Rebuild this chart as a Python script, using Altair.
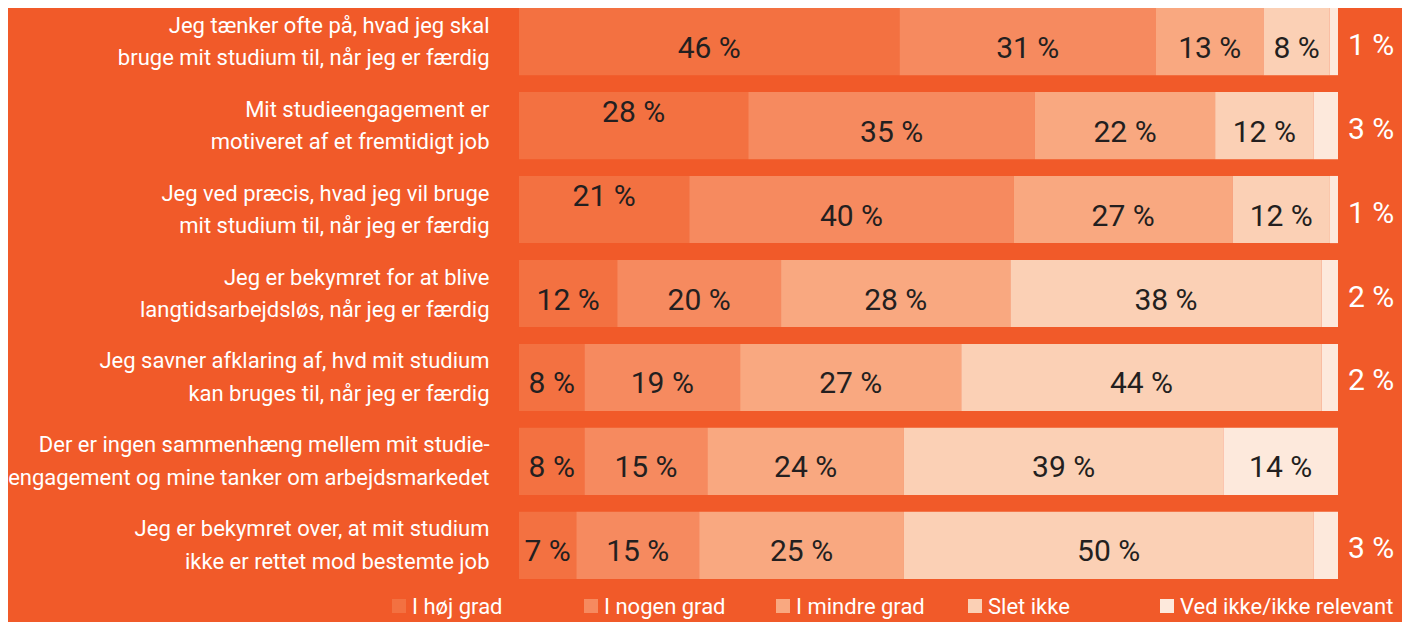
import altair as alt
import pandas as pd

items = [
    "Jeg tænker ofte på, hvad jeg skal|bruge mit studium til, når jeg er færdig",
    "Mit studieengagement er|motiveret af et fremtidigt job",
    "Jeg ved præcis, hvad jeg vil bruge|mit studium til, når jeg er færdig",
    "Jeg er bekymret for at blive|langtidsarbejdsløs, når jeg er færdig",
    "Jeg savner afklaring af, hvd mit studium|kan bruges til, når jeg er færdig",
    "Der er ingen sammenhæng mellem mit studie-|engagement og mine tanker om arbejdsmarkedet",
    "Jeg er bekymret over, at mit studium|ikke er rettet mod bestemte job",
]
cats = ["I høj grad", "I nogen grad", "I mindre grad", "Slet ikke", "Ved ikke/ikke relevant"]

hoej = [46, 28, 21, 12, 8, 8, 7]
nogen = [31, 35, 40, 20, 19, 15, 15]
mindre = [13, 22, 27, 28, 27, 24, 25]
slet = [8, 12, 12, 38, 44, 39, 50]
vedikke = [1, 3, 1, 2, 2, 14, 3]
series = [hoej, nogen, mindre, slet, vedikke]

colors = ["#F37141", "#F68A5F", "#F9A880", "#FBD0B5", "#FDE9DC"]
BG = "#F15A29"
DARK = "#231F20"

rows = []
for r, item in enumerate(items):
    for k, (cat, vals) in enumerate(zip(cats, series)):
        rows.append({"item": item, "row": r, "cat": cat, "k": k, "value": vals[r]})
df = pd.DataFrame(rows)

color = alt.Color("cat:N", scale=alt.Scale(domain=cats, range=colors), legend=None)
xscale = alt.Scale(domain=[0, 1], nice=False, zero=True)

yenc = alt.Y(
    "item:N",
    sort=items,
    title=None,
    scale=alt.Scale(paddingInner=0.2, paddingOuter=0),
    axis=alt.Axis(
        labelExpr="split(datum.label, '|')",
        labelFont="Roboto",
        labelFontSize=22,
        labelColor="white",
        labelLineHeight=32.5,
        labelPadding=30,
        labelLimit=1000,
        labelAlign="right",
        labelBaseline="middle",
        labelOffset=-16,
        ticks=False,
        domain=False,
        grid=False,
    ),
)

base = alt.Chart(df).transform_stack(
    stack="value",
    as_=["x0", "x1"],
    groupby=["item"],
    offset="normalize",
    sort=[alt.SortField("k", order="ascending")],
).transform_calculate(
    mid="(datum.x0 + datum.x1) / 2",
    label="datum.value + ' %'",
)

bars = base.mark_bar().encode(
    x=alt.X("x0:Q", scale=xscale, axis=None),
    x2="x1:Q",
    y=yenc,
    color=color,
)

inside = base.transform_filter(
    "!(datum.k == 4 && datum.value < 5) && !(datum.k == 0 && (datum.row == 1 || datum.row == 2))"
).mark_text(font="Roboto", fontSize=30, color=DARK, baseline="middle", dy=7).encode(
    x=alt.X("mid:Q", scale=xscale, axis=None),
    y=yenc,
    text="label:N",
)

raised = base.transform_filter(
    "datum.k == 0 && (datum.row == 1 || datum.row == 2)"
).mark_text(font="Roboto", fontSize=30, color=DARK, baseline="middle", dy=-13).encode(
    x=alt.X("mid:Q", scale=xscale, axis=None),
    y=yenc,
    text="label:N",
)

outside = base.transform_filter(
    "datum.k == 4 && datum.value < 5"
).mark_text(font="Roboto", fontSize=30, color="white", baseline="middle", align="left", dx=10, dy=4).encode(
    x=alt.X("x1:Q", scale=xscale, axis=None),
    y=yenc,
    text="label:N",
)

main = alt.layer(bars, inside, raised, outside)

legend_df = pd.DataFrame({"cat": cats})
lx = alt.X("cat:N", sort=cats, scale=alt.Scale(type="point", domain=cats, range=[-120, 648], padding=0), axis=None)
leg_sq = alt.Chart(legend_df).mark_square(size=196, opacity=1).encode(
    x=lx, y=alt.value(598), color=color
)
leg_tx = alt.Chart(legend_df).mark_text(
    font="Roboto", fontSize=22, color="white", align="left", baseline="middle", dx=13, dy=1
).encode(x=lx, y=alt.value(598), text="cat:N")
legend = alt.layer(leg_sq, leg_tx)

chart = alt.layer(main, legend).resolve_scale(x="independent").properties(
    width=819,
    height=571,
    autosize=alt.AutoSizeParams(type="none"),
    padding={"left": 511, "top": 0, "right": 64, "bottom": 43},
).configure(background=BG).configure_view(stroke=None)

chart.save("out.html", embed_options={"renderer": "svg", "actions": False})
